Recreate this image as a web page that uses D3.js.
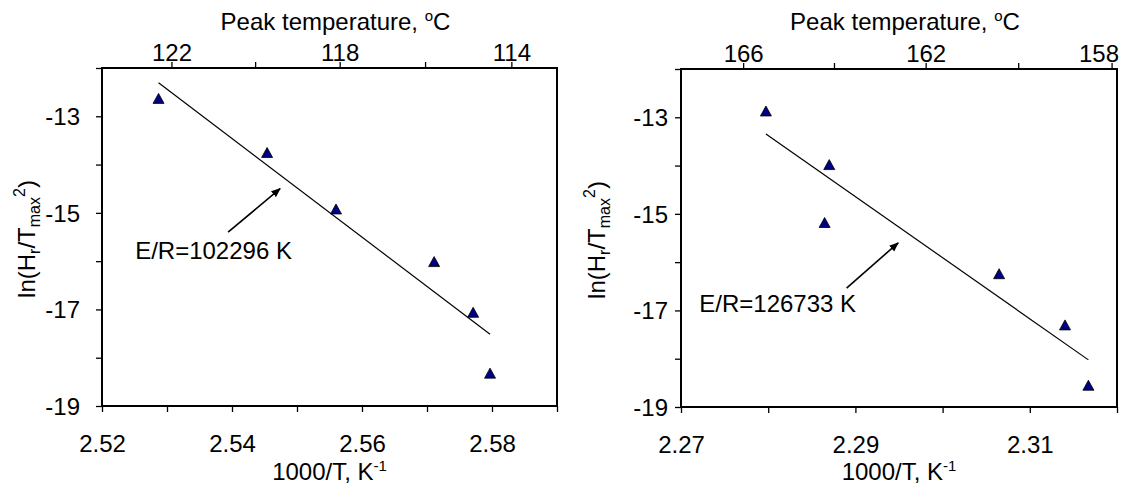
<!DOCTYPE html>
<html>
<head>
<meta charset="utf-8">
<script src="https://cdn.jsdelivr.net/npm/d3@7"></script>
<style>
  html, body { margin: 0; padding: 0; background: #fff; }
  svg { display: block; }
  text { font-family: "Liberation Sans", Arial, sans-serif; fill: #000; }
</style>
</head>
<body>
<svg id="chart" width="1123" height="489"></svg>
<script>
// ---------------- data ----------------
// Left panel: 1000/T (K^-1) and ln(Hr/Tmax^2)
const leftX = [2.5287, 2.5454, 2.5560, 2.5711, 2.5771, 2.5797];
const leftY = [-12.65, -13.77, -14.94, -16.03, -17.08, -18.34];
// Right panel
const rightX = [2.27974, 2.28700, 2.28647, 2.30648, 2.31404, 2.31672];
const rightY = [-12.89, -14.00, -15.20, -16.26, -17.32, -18.57];

// axis ticks
const leftXDomain = [2.52, 2.59];
const leftXTicks = [2.52, 2.53, 2.54, 2.55, 2.56, 2.57, 2.58, 2.59];
const leftXLabels = [2.52, 2.54, 2.56, 2.58];
const leftTempTicks = [122, 120, 118, 116, 114];
const leftTempLabels = [122, 118, 114];

const rightXDomain = [2.27, 2.32];
const rightXTicks = [2.27, 2.28, 2.29, 2.30, 2.31, 2.32];
const rightXLabels = [2.27, 2.29, 2.31];
const rightTempTicks = [166, 164, 162, 160, 158];
const rightTempLabels = [166, 162, 158];

const yDomain = [-19, -12];
const yTicks = [-19, -18, -17, -16, -15, -14, -13, -12];
const yLabels = [-19, -17, -15, -13];

// annotations (data coordinates)
const leftNote = { text: "E/R=102296 K", tx: 2.5251, ty: -15.95, ax0: 2.5394, ay0: -15.40, ax1: 2.5474, ay1: -14.50 };
const rightNote = { text: "E/R=126733 K", tx: 2.27210, ty: -17.04, ax0: 2.28899, ay0: -16.54, ax1: 2.29490, ay1: -15.60 };

// ---------------- drawing ----------------
const svg = d3.select("#chart");
const W = 1123;
const FS = 24;
const defs = svg.append("defs");
defs.append("marker")
  .attr("id", "arrow").attr("viewBox", "0 0 10 10")
  .attr("refX", 9).attr("refY", 5)
  .attr("markerWidth", 6).attr("markerHeight", 6)
  .attr("markerUnits", "strokeWidth")
  .attr("orient", "auto")
  .append("path").attr("d", "M0,1 L10,5 L0,9 Z").attr("fill", "#000");

const fmt = d => String(d);
const toInv = t => 1000 / (t + 273.15);

function panel(cfg) {
  const g = svg.append("g");
  const x = d3.scaleLinear().domain(cfg.xDomain).range([cfg.x0, cfg.x1]);
  const y = d3.scaleLinear().domain(yDomain).range([cfg.y1, cfg.y0]);

  // bottom axis
  const bx = g.append("g").attr("transform", `translate(0,${cfg.y1})`)
    .call(d3.axisBottom(x).tickValues(cfg.xTicks).tickSize(6)
      .tickFormat(d => cfg.xLabels.some(v => Math.abs(v - d) < 1e-9) ? d3.format(".2f")(d) : ""));
  bx.select(".domain").remove();
  bx.selectAll("text").attr("y", 46).attr("dy", 0).style("font-size", FS + "px");

  // top axis (peak temperature)
  const tx = g.append("g").attr("transform", `translate(0,${cfg.y0})`)
    .call(d3.axisTop(x).tickValues(cfg.tempTicks.map(toInv)).tickSize(6)
      .tickFormat((d, i) => cfg.tempLabels.includes(cfg.tempTicks[i]) ? fmt(cfg.tempTicks[i]) : ""));
  tx.select(".domain").remove();
  tx.selectAll("text").attr("y", -7).attr("dy", 0).style("font-size", FS + "px");
  // keep labels inside the picture
  tx.selectAll(".tick").each(function () {
    const t = d3.select(this).select("text");
    const node = t.node();
    if (!node || !node.textContent) return;
    const bb = node.getBBox();
    const m = this.transform.baseVal.consolidate().matrix;
    const right = m.e + bb.x + bb.width;
    if (right > W - 4) t.attr("x", -(right - (W - 4)));
  });

  // left axis
  const ly = g.append("g").attr("transform", `translate(${cfg.x0},0)`)
    .call(d3.axisLeft(y).tickValues(yTicks).tickSize(6)
      .tickFormat(d => yLabels.includes(d) ? fmt(d) : ""));
  ly.select(".domain").remove();
  ly.selectAll("text").attr("x", -cfg.yLabelGap).attr("dy", "0.35em").style("font-size", FS + "px");

  g.selectAll(".tick line").attr("stroke", "#000").attr("stroke-width", 1.3);

  // frame
  g.append("rect").attr("x", cfg.x0).attr("y", cfg.y0)
    .attr("width", cfg.x1 - cfg.x0).attr("height", cfg.y1 - cfg.y0)
    .attr("fill", "none").attr("stroke", "#000").attr("stroke-width", 2);

  // regression line computed from the data
  const xs = cfg.xs, ys = cfg.ys, n = xs.length;
  const mx = d3.mean(xs), my = d3.mean(ys);
  let sxy = 0, sxx = 0;
  for (let i = 0; i < n; i++) { sxy += (xs[i] - mx) * (ys[i] - my); sxx += (xs[i] - mx) ** 2; }
  const b = sxy / sxx, a = my - b * mx;
  const xa = d3.min(xs), xb = d3.max(xs);
  g.append("line")
    .attr("x1", x(xa)).attr("y1", y(a + b * xa))
    .attr("x2", x(xb)).attr("y2", y(a + b * xb))
    .attr("stroke", "#000").attr("stroke-width", 1.2);

  // markers
  const tri = "M0,-6 L5.5,4 L-5.5,4 Z";
  g.selectAll(".pt").data(d3.range(n)).enter().append("path")
    .attr("transform", i => `translate(${x(xs[i])},${y(ys[i])})`)
    .attr("d", tri).attr("fill", "#000080").attr("stroke", "#000").attr("stroke-width", 0.8);

  // annotation
  const nt = cfg.note;
  g.append("line")
    .attr("x1", x(nt.ax0)).attr("y1", y(nt.ay0))
    .attr("x2", x(nt.ax1)).attr("y2", y(nt.ay1))
    .attr("stroke", "#000").attr("stroke-width", 1.6)
    .attr("marker-end", "url(#arrow)");
  g.append("text").attr("x", x(nt.tx)).attr("y", y(nt.ty))
    .style("font-size", FS + "px").text(nt.text);

  // axis titles
  const cx = (cfg.x0 + cfg.x1) / 2;
  const t1 = g.append("text").attr("x", cx + 6).attr("y", 30)
    .attr("text-anchor", "middle").style("font-size", FS + "px");
  t1.append("tspan").text("Peak temperature, ");
  t1.append("tspan").attr("dy", -9).style("font-size", "15px").text("o");
  t1.append("tspan").attr("dy", 9).text("C");

  const t2 = g.append("text").attr("x", cx).attr("y", 480)
    .attr("text-anchor", "middle").style("font-size", FS + "px");
  t2.append("tspan").text("1000/T, K");
  t2.append("tspan").attr("dy", -9).style("font-size", "15px").text("-1");

  const cy = (cfg.y0 + cfg.y1) / 2;
  const t3 = g.append("text")
    .attr("transform", `translate(${cfg.x0 - cfg.yTitleGap},${cy + 2}) rotate(-90)`)
    .attr("text-anchor", "middle").style("font-size", FS + "px");
  t3.append("tspan").text("ln(H");
  t3.append("tspan").attr("dy", 5).style("font-size", "16px").text("r");
  t3.append("tspan").attr("dy", -5).text("/T");
  t3.append("tspan").attr("dy", 5).style("font-size", "16px").text("max");
  t3.append("tspan").attr("dy", -15).style("font-size", "16px").text("2");
  t3.append("tspan").attr("dy", 10).text(")");
}

panel({ x0: 102, x1: 557, y0: 68, y1: 406, xDomain: leftXDomain, xTicks: leftXTicks, xLabels: leftXLabels,
  tempTicks: leftTempTicks, tempLabels: leftTempLabels, xs: leftX, ys: leftY, note: leftNote,
  yLabelGap: 22, yTitleGap: 67 });
panel({ x0: 681, x1: 1117, y0: 69, y1: 407, xDomain: rightXDomain, xTicks: rightXTicks, xLabels: rightXLabels,
  tempTicks: rightTempTicks, tempLabels: rightTempLabels, xs: rightX, ys: rightY, note: rightNote,
  yLabelGap: 13, yTitleGap: 76 });
</script>
</body>
</html>
